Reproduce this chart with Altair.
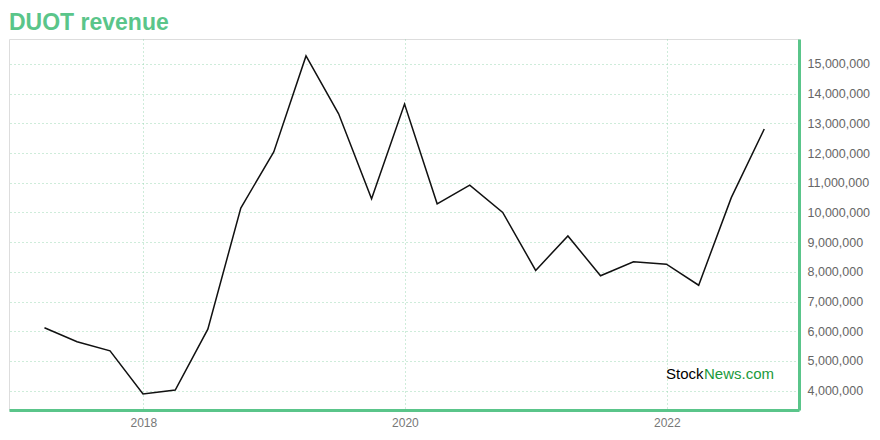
import altair as alt
import pandas as pd

dates = [
    "2017-03-31", "2017-06-30", "2017-09-30", "2017-12-31",
    "2018-03-31", "2018-06-30", "2018-09-30", "2018-12-31",
    "2019-03-31", "2019-06-30", "2019-09-30", "2019-12-31",
    "2020-03-31", "2020-06-30", "2020-09-30", "2020-12-31",
    "2021-03-31", "2021-06-30", "2021-09-30", "2021-12-31",
    "2022-03-31", "2022-06-30", "2022-09-30",
]
revenue = [
    6120000, 5650000, 5340000, 3890000,
    4020000, 6070000, 10150000, 12040000,
    15270000, 13320000, 10460000, 13650000,
    10290000, 10920000, 10000000, 8050000,
    9210000, 7870000, 8340000, 8260000,
    7550000, 10500000, 12810000,
]
year_ticks = ["2018-01-01", "2020-01-01", "2022-01-01"]
y_ticks = [4000000, 5000000, 6000000, 7000000, 8000000, 9000000, 10000000,
           11000000, 12000000, 13000000, 14000000, 15000000]

df = pd.DataFrame({"date": pd.to_datetime(dates), "revenue": revenue})

GREEN = "#5ac58a"
GRID = "#9dd8b4"
FONT = "Liberation Sans"

x_enc = alt.X(
    "date:T",
    scale=alt.Scale(domain=["2016-12-22", "2023-01-05"]),
    axis=alt.Axis(
        values=[pd.Timestamp(d).isoformat() for d in year_ticks],
        format="%Y", labelColor="#777", labelFontSize=12, labelFont=FONT,
        domainColor=GREEN, domainWidth=3, ticks=False, labelPadding=7,
        grid=True, gridColor=GRID, gridDash=[1, 3], gridWidth=1, title=None,
    ),
)
y_enc = alt.Y(
    "revenue:Q",
    scale=alt.Scale(domain=[3350000, 15840000], nice=False, zero=False),
    axis=alt.Axis(
        orient="right", values=y_ticks, format=",d", labelColor="#666",
        labelFontSize=12.5, labelFont=FONT, domainColor=GREEN, domainWidth=3,
        ticks=False, labelPadding=8, grid=True, gridColor=GRID,
        gridDash=[1, 3], gridWidth=1, title=None,
    ),
)

line = alt.Chart(df).mark_line(color="#111", strokeWidth=1.5).encode(x=x_enc, y=y_enc)

wm_stock = alt.Chart(pd.DataFrame({"t": ["Stock"]})).mark_text(
    align="left", baseline="middle", fontSize=15, font=FONT, color="#000"
).encode(x=alt.value(657), y=alt.value(335), text="t:N")
wm_news = alt.Chart(pd.DataFrame({"t": ["News.com"]})).mark_text(
    align="left", baseline="middle", fontSize=15, font=FONT, color="#1a9a3c"
).encode(x=alt.value(695), y=alt.value(335), text="t:N")

chart = alt.layer(line, wm_stock, wm_news).properties(
    width=790, height=371,
    title=alt.TitleParams("DUOT revenue", anchor="start", fontSize=23, font=FONT,
                          fontWeight="bold", color=GREEN, offset=4),
    autosize=alt.AutoSizeParams(type="none"),
    padding={"left": 1, "top": 31, "right": 72, "bottom": 22},
).configure_view(stroke="#eeeeee", strokeWidth=1).configure(background="white")

chart.save("out.html", embed_options={"renderer": "svg", "actions": False})
